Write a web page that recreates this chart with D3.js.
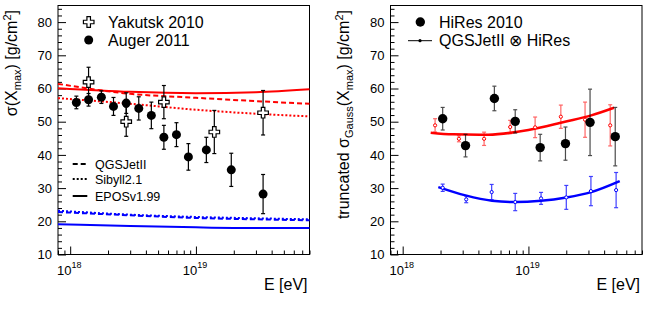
<!DOCTYPE html>
<html>
<head>
<meta charset="utf-8"/>
<title>sigma Xmax</title>
<script src="https://d3js.org/d3.v7.min.js"></script>
<style>
    body { margin: 0; background: #fff; }
    svg text { font-family: "Liberation Sans", Arial, sans-serif; fill: #000; }
</style>
</head>
<body>
<svg id="chart" width="664" height="311"></svg>
<script>
// energies in eV, widths in g/cm^2

// ---- left panel data
var augerE     = [1.12e18, 1.40e18, 1.77e18, 2.21e18, 2.79e18, 3.51e18, 4.42e18, 5.56e18, 7.0e18, 8.71e18, 1.21e19, 1.91e19, 3.42e19];
var augerSigma = [55.8, 56.6, 57.4, 54.6, 55.6, 54.0, 51.9, 45.3, 46.1, 39.4, 41.5, 35.5, 28.2];
var augerErr   = [1.9, 1.9, 1.9, 2.7, 3.1, 3.5, 4.0, 3.6, 3.6, 4.0, 3.8, 5.0, 5.9];

var yakutskE     = [1.40e18, 2.79e18, 5.56e18, 1.40e19, 3.42e19];
var yakutskSigma = [61.9, 50.0, 55.9, 46.9, 52.7];
var yakutskErr   = [4.5, 4.4, 5.0, 6.5, 6.7];

var modelE       = [8e17, 3e18, 1e19, 3e19, 8e19];
var eposProton   = [60.1, 59.0, 58.6, 58.9, 59.8];
var qgsProton    = [61.4, 58.4, 57.2, 56.2, 55.4];
var sibyllProton = [57.1, 55.4, 53.6, 52.4, 51.6];
var eposIron     = [19.1, 18.6, 18.2, 18.0, 18.0];
var qgsIron      = [22.8, 21.8, 21.0, 20.6, 20.3];
var sibyllIron   = [23.2, 22.0, 21.3, 20.9, 20.6];

// ---- right panel data
var hiresE     = [2.08e18, 3.16e18, 5.36e18, 7.85e18, 1.24e19, 1.97e19, 3.09e19, 4.90e19];
var hiresSigma = [50.9, 42.8, 57.0, 50.1, 42.2, 43.4, 49.8, 45.5];
var hiresErr   = [3.4, 3.4, 3.7, 3.5, 4.0, 5.0, 10.0, 8.8];

var simProtonE     = [1.81e18, 2.80e18, 4.44e18, 7.16e18, 1.13e19, 1.81e19, 2.82e19, 4.47e19];
var simProtonSigma = [48.9, 44.85, 44.85, 48.4, 48.3, 51.5, 50.6, 48.9];
var simProtonErr   = [2.0, 0.9, 2.0, 2.0, 3.1, 3.5, 5.3, 6.2];

var simIronE     = [2.08e18, 3.20e18, 5.10e18, 7.85e18, 1.26e19, 2.0e19, 3.14e19, 4.98e19];
var simIronSigma = [30.1, 26.6, 28.8, 25.8, 26.9, 27.2, 29.1, 29.4];
var simIronErr   = [1.1, 1.0, 2.3, 2.6, 1.8, 3.6, 4.4, 5.3];

var fitProtonE = [1.67e18, 2.51e18, 4.79e18, 1e19, 1.95e19, 3.16e19, 4.79e19];
var fitProton  = [46.7, 46.2, 46.1, 47.5, 50.0, 51.9, 54.2];
var fitIronE   = [1.92e18, 3.16e18, 5.13e18, 7.85e18, 1.26e19, 2e19, 3.16e19, 5.32e19];
var fitIron    = [30.3, 27.8, 26.2, 25.8, 26.2, 27.2, 28.8, 32.1];

// ---- axis ticks
var yMajor = [10, 20, 30, 40, 50, 60, 70, 80];
var xMajor = [1e18, 1e19];
var xMajorLabels = ["18", "19"];

var svg = d3.select("#chart");

function zip(xs, ys, es) {
    return xs.map(function(x, i) { return {x: x, y: ys[i], e: es ? es[i] : 0}; });
}

function makePanel(left, right) {
    var p = {};
    p.x = d3.scaleLog().domain([8e17, 8e19]).range([left, right]);
    p.y = d3.scaleLinear().domain([10, 85]).range([254.5, 5.5]);
    p.g = svg.append("g");

    // minor ticks
    var yMinor = d3.range(10, 85.1, 2).filter(function(v) { return v % 10 != 0; });
    var xMinor = [];
    [17, 18, 19].forEach(function(d) {
        for (var k = 2; k <= 9; k++) {
            var v = k * Math.pow(10, d);
            if (v >= 8e17 && v <= 8e19) xMinor.push(v);
        }
    });

    p.g.append("g").attr("transform", "translate(" + left + ",0)")
        .call(d3.axisLeft(p.y).tickValues(yMinor).tickSize(-4).tickFormat(""))
        .call(function(a) { a.select(".domain").remove(); });
    p.g.append("g").attr("transform", "translate(" + left + ",0)")
        .call(d3.axisLeft(p.y).tickValues(yMajor).tickSize(-8).tickPadding(6))
        .call(function(a) {
            a.select(".domain").remove();
            a.selectAll("text").style("font-size", "13px");
        });
    p.g.append("g").attr("transform", "translate(0,254.5)")
        .call(d3.axisBottom(p.x).tickValues(xMinor).tickSize(-4).tickFormat(""))
        .call(function(a) { a.select(".domain").remove(); });
    p.g.append("g").attr("transform", "translate(0,254.5)")
        .call(d3.axisBottom(p.x).tickValues(xMajor).tickSize(-8).tickFormat(""))
        .call(function(a) { a.select(".domain").remove(); });

    // x labels 10^n
    xMajor.forEach(function(v, i) {
        var t = p.g.append("text")
            .attr("x", p.x(v) - 1).attr("y", 275)
            .attr("text-anchor", "middle")
            .style("font-size", "13px");
        t.append("tspan").text("10");
        t.append("tspan").attr("dy", -7).style("font-size", "9px").text(xMajorLabels[i]);
    });

    p.g.append("text").attr("x", right - 2).attr("y", 290)
        .attr("text-anchor", "end").style("font-size", "16px").text("E [eV]");

    p.g.append("rect")
        .attr("x", left).attr("y", 5.5)
        .attr("width", right - left).attr("height", 249)
        .attr("fill", "none").attr("stroke", "#000").attr("stroke-width", 1);

    p.plot = p.g.append("g");
    return p;
}

function curve(p, xs, ys, color, dash, width) {
    var line = d3.line()
        .x(function(d) { return p.x(d.x); })
        .y(function(d) { return p.y(d.y); })
        .curve(d3.curveMonotoneX);
    p.plot.append("path")
        .datum(zip(xs, ys))
        .attr("d", line)
        .attr("fill", "none")
        .attr("stroke", color)
        .attr("stroke-width", width || 2)
        .attr("stroke-dasharray", dash || null);
}

function errorBars(p, data, color, opacity) {
    var g = p.plot.append("g").attr("stroke", color).attr("stroke-width", 1.2)
        .attr("opacity", opacity || 1);
    g.selectAll(".v").data(data).enter().append("line")
        .attr("x1", function(d) { return p.x(d.x); })
        .attr("x2", function(d) { return p.x(d.x); })
        .attr("y1", function(d) { return p.y(d.y - d.e); })
        .attr("y2", function(d) { return p.y(d.y + d.e); });
    [-1, 1].forEach(function(s) {
        g.selectAll(".c" + s).data(data).enter().append("line")
            .attr("x1", function(d) { return p.x(d.x) - 2; })
            .attr("x2", function(d) { return p.x(d.x) + 2; })
            .attr("y1", function(d) { return p.y(d.y + s * d.e); })
            .attr("y2", function(d) { return p.y(d.y + s * d.e); });
    });
}

function dots(p, data, r, fill, stroke, sw) {
    p.plot.append("g").selectAll("circle").data(data).enter().append("circle")
        .attr("cx", function(d) { return p.x(d.x); })
        .attr("cy", function(d) { return p.y(d.y); })
        .attr("r", r)
        .attr("fill", fill)
        .attr("stroke", stroke || "none")
        .attr("stroke-width", sw || 0);
}

var cross = d3.symbol().type(d3.symbolCross).size(62);

// ================= left panel
var L = makePanel(58, 309.5);

curve(L, modelE, sibyllIron, "#0000ff", "2,2");
curve(L, modelE, qgsIron, "#0000ff", "5,3");
curve(L, modelE, eposIron, "#0000ff");
curve(L, modelE, sibyllProton, "#ff0000", "2,2");
curve(L, modelE, qgsProton, "#ff0000", "5,3");
curve(L, modelE, eposProton, "#ff0000");

var augerData = zip(augerE, augerSigma, augerErr);
var yakData = zip(yakutskE, yakutskSigma, yakutskErr);
errorBars(L, augerData, "#000");
errorBars(L, yakData, "#000");
dots(L, augerData, 4.5, "#000");
L.plot.append("g").selectAll("path").data(yakData).enter().append("path")
    .attr("d", cross)
    .attr("transform", function(d) { return "translate(" + L.x(d.x) + "," + L.y(d.y) + ")"; })
    .attr("fill", "#fff").attr("stroke", "#000").attr("stroke-width", 1.2);

// legend
L.g.append("path").attr("d", cross).attr("transform", "translate(88.7,22)")
    .attr("fill", "#fff").attr("stroke", "#000").attr("stroke-width", 1.2);
L.g.append("text").attr("x", 108).attr("y", 28).style("font-size", "16px").text("Yakutsk 2010");
L.g.append("circle").attr("cx", 88.7).attr("cy", 40).attr("r", 4.5).attr("fill", "#000");
L.g.append("text").attr("x", 108).attr("y", 45.5).style("font-size", "16px").text("Auger 2011");

var modelLegend = [["QGSJetII", "5,3", 164], ["Sibyll2.1", "2,2", 179], ["EPOSv1.99", null, 196]];
modelLegend.forEach(function(m) {
    L.g.append("line").attr("x1", 72.7).attr("x2", 87.3).attr("y1", m[2]).attr("y2", m[2])
        .attr("stroke", "#000").attr("stroke-width", 2).attr("stroke-dasharray", m[1]);
    L.g.append("text").attr("x", 95).attr("y", m[2] + 4.5).style("font-size", "12.5px").text(m[0]);
});

var lt = L.g.append("text").attr("transform", "translate(17,10) rotate(-90)")
    .attr("text-anchor", "end").style("font-size", "16px");
lt.append("tspan").text("\u03c3(X");
lt.append("tspan").attr("dy", 4).style("font-size", "11px").text("max");
lt.append("tspan").attr("dy", -4).text(") [g/cm");
lt.append("tspan").attr("dy", -6).style("font-size", "11px").text("2");
lt.append("tspan").attr("dy", 6).text("]");

// ================= right panel
var R = makePanel(390.5, 642);

curve(R, fitProtonE, fitProton, "#ff0000", null, 2.5);
curve(R, fitIronE, fitIron, "#0000ff", null, 2.5);

var protonData = zip(simProtonE, simProtonSigma, simProtonErr);
var ironData = zip(simIronE, simIronSigma, simIronErr);
var hiresData = zip(hiresE, hiresSigma, hiresErr);

errorBars(R, protonData, "#ff0000", 0.6);
errorBars(R, ironData, "#0000ff", 0.75);
dots(R, protonData, 1.6, "#fff", "#ff0000", 1);
dots(R, ironData, 1.6, "#fff", "#0000ff", 1);
errorBars(R, hiresData, "#000", 0.7);
dots(R, hiresData, 4.7, "#000");

R.g.append("circle").attr("cx", 420.3).attr("cy", 22).attr("r", 4.7).attr("fill", "#000");
R.g.append("text").attr("x", 439).attr("y", 28).style("font-size", "16px").text("HiRes 2010");
R.g.append("line").attr("x1", 408).attr("x2", 432).attr("y1", 40.7).attr("y2", 40.7)
    .attr("stroke", "#000").attr("stroke-width", 1);
R.g.append("circle").attr("cx", 420).attr("cy", 40.7).attr("r", 1.6).attr("fill", "#000");
R.g.append("text").attr("x", 439).attr("y", 46).style("font-size", "16px").text("QGSJetII \u2297 HiRes");

var rt = R.g.append("text").attr("transform", "translate(349,10) rotate(-90)")
    .attr("text-anchor", "end").style("font-size", "16px");
rt.append("tspan").text("truncated \u03c3");
rt.append("tspan").attr("dy", 4).style("font-size", "11px").text("Gauss");
rt.append("tspan").attr("dy", -4).text("(X");
rt.append("tspan").attr("dy", 4).style("font-size", "11px").text("max");
rt.append("tspan").attr("dy", -4).text(") [g/cm");
rt.append("tspan").attr("dy", -6).style("font-size", "11px").text("2");
rt.append("tspan").attr("dy", 6).text("]");
</script>
</body>
</html>
